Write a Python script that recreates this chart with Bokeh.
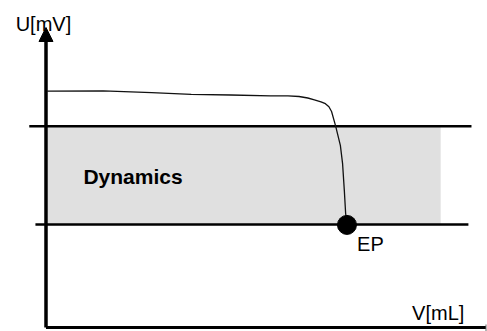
from bokeh.plotting import figure
from bokeh.models import Range1d, Arrow, NormalHead
from bokeh.core.properties import value
from bokeh.embed import file_html
from bokeh.resources import INLINE

# titration curve (V in arbitrary mL units, U in arbitrary mV units)
curve_v = [0.3, 13, 24, 33, 42, 51, 55, 57.5, 59.5, 61, 62.5, 63.5, 64.3, 64.9, 65.8, 66.9, 67.4, 67.8, 68.1, 68.4]
curve_u = [78.8, 78.9, 78.3, 77.7, 77.5, 77.2, 77.2, 77.0, 76.5, 75.9, 75.2, 74.6, 73.6, 72.0, 67.3, 60.7, 54.7, 45.7, 38.0, 34.2]

# end point
ep_v = [68.4]
ep_u = [34.2]

# dynamics band
band_left = [0.4]
band_right = [89.7]
band_bottom = [34.3]
band_top = [67.1]

# limit lines
lim_x0 = [-3.8, -2.4]
lim_x1 = [96.7, 96.0]
lim_u = [67.1, 34.3]

# axes extents
v_max = 100.0
u_max = 100.0

p = figure(width=487, height=331, output_backend="svg", toolbar_location=None,
           x_range=Range1d(-10.34, 100.34), y_range=Range1d(-1.333, 109.0),
           min_border=0, outline_line_color=None)
p.axis.visible = False
p.grid.visible = False
p.background_fill_color = "white"

p.quad(left=band_left, right=band_right, bottom=band_bottom, top=band_top,
       fill_color="#e0e0e0", line_color=None)

p.segment(x0=lim_x0, y0=lim_u, x1=lim_x1, y1=lim_u, line_color="black",
          line_width=2.5, line_cap="butt")

p.line(curve_v, curve_u, line_color="#111111", line_width=1.3, line_join="round")

p.scatter(ep_v, ep_u, size=19, fill_color="black", line_color="black")

# x axis
p.segment(x0=[0], y0=[0], x1=[v_max], y1=[0], line_color="black", line_width=3.2, line_cap="butt")
p.segment(x0=[v_max], y0=[-1.2], x1=[v_max], y1=[1.0], line_color="#666666", line_width=1)

# y axis with arrow head
p.add_layout(Arrow(end=NormalHead(size=14, fill_color="black", line_color="black", line_width=1),
                   x_start=0, y_start=0, x_end=0, y_end=u_max,
                   line_color="black", line_width=3.5))

font = value("Liberation Sans")
p.text(x=[-6.9], y=[101.3], text=["U[mV]"], text_font=font, text_font_size="20px",
       text_baseline="alphabetic", text_align="left", text_color="black")
p.text(x=[83.2], y=[4.9], text=["V[mL]"], text_font=font, text_font_size="20px",
       text_baseline="alphabetic", text_align="left", text_color="black")
p.text(x=[70.7], y=[28.0], text=["EP"], text_font=font, text_font_size="20px",
       text_baseline="alphabetic", text_align="left", text_color="black")
p.text(x=[8.5], y=[50.4], text=["Dynamics"], text_font=font, text_font_size="21px",
       text_font_style="bold", text_baseline="alphabetic", text_align="left", text_color="black")

open("out.html", "w").write(file_html(p, INLINE))
